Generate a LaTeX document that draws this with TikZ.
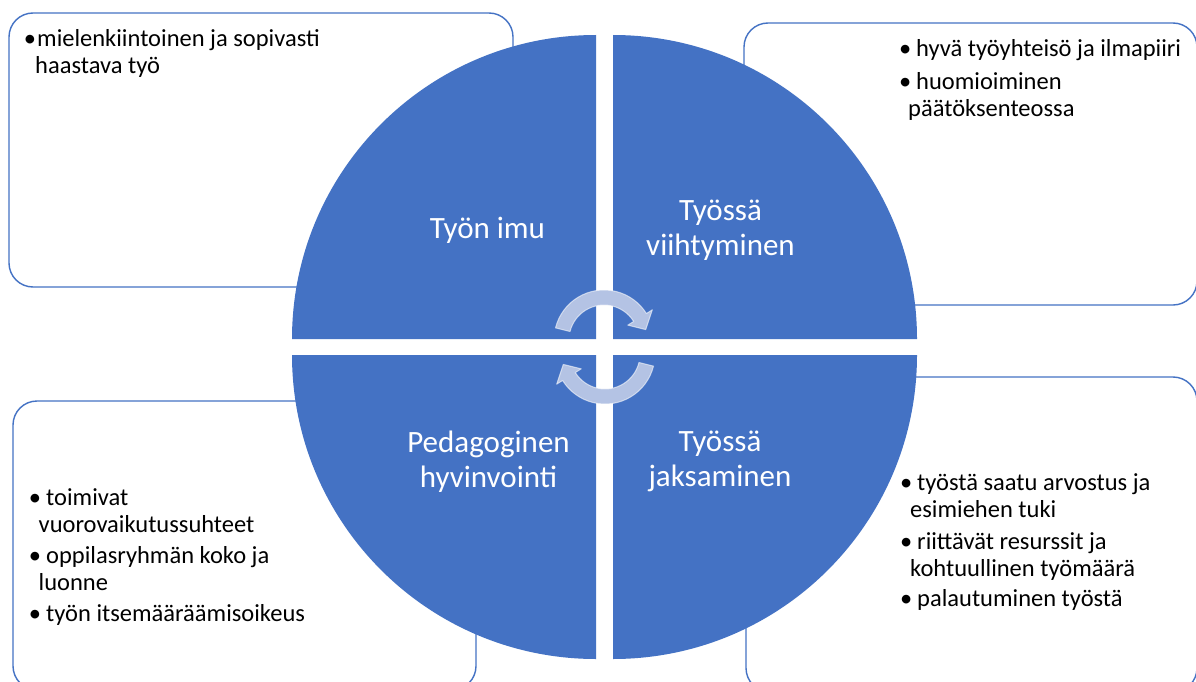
\documentclass[tikz,border=0pt]{standalone}
\usepackage{fontspec}
\setmainfont{Carlito}
\usetikzlibrary{calc}

\definecolor{qblue}{RGB}{68,114,196}
\definecolor{cycfill}{RGB}{180,195,228}

\tikzset{
  quad/.style={fill=qblue, draw=none},
  infobox/.style={draw=qblue, line width=1.4pt, rounded corners=24pt, fill=white},
  qlabel/.style={text=white, font=\fontsize{31}{35}\selectfont, align=center, inner sep=0pt},
  % base anchor of a multi-line item sits on its last line
  item/.style={anchor=base west, inner sep=0pt, align=left, text=black,
               font=\fontsize{24.5}{27}\selectfont},
  cyc/.style={fill=cycfill, draw=white, draw opacity=0.55, line width=1pt, line join=round},
}
\newcommand{\bul}{\llap{\textbullet\hspace{5pt}}}
\newcommand{\tightbul}{\llap{\textbullet\hspace{1pt}}}

\begin{document}
\begin{tikzpicture}[x=1pt, y=-1pt]
  \useasboundingbox (0,0) rectangle (1196,682);
  \fill[white] (0,0) rectangle (1196,682);
  \clip (0,0) rectangle (1196,682);

  % text boxes behind the circle
  \draw[infobox] (9,13) rectangle (513,287);
  \draw[infobox] (744,23) rectangle (1197,305);
  \draw[infobox] (13,401) rectangle (476,690);
  \draw[infobox] (746,377) rectangle (1197,692);

  % four quarter discs, pulled apart
  \fill[quad] (596,339) -- (292,339) arc[start angle=180, end angle=90, radius=304pt] -- cycle;
  \fill[quad] (613,339) -- (613,35) arc[start angle=90, end angle=0, radius=304pt] -- cycle;
  \fill[quad] (596,355) -- (292,355) arc[start angle=180, end angle=270, radius=304pt] -- cycle;
  \fill[quad] (613,355) -- (917,355) arc[start angle=0, end angle=-90, radius=304pt] -- cycle;

  % cycle arrows in the middle
  \coordinate (c1) at (604,340);
  \coordinate (c2) at (605,354);
  \draw[cyc] ($(c1)+(166:50pt)$) arc[start angle=166, end angle=32, radius=50pt]
     -- ($(c1)+(32:57pt)$) -- ($(c1)+(14:43pt)$) -- ($(c1)+(32:28pt)$)
     -- ($(c1)+(32:35pt)$) arc[start angle=32, end angle=166, radius=35pt] -- cycle;
  \draw[cyc] ($(c2)+(-14:50pt)$) arc[start angle=-14, end angle=-148, radius=50pt]
     -- ($(c2)+(-148:57pt)$) -- ($(c2)+(-166:43pt)$) -- ($(c2)+(-148:28pt)$)
     -- ($(c2)+(-148:35pt)$) arc[start angle=-148, end angle=-14, radius=35pt] -- cycle;

  % quadrant titles
  \node[qlabel] (q1) at (487.5,230) {Työn imu};
  \node[qlabel] (q2) at (720.5,230) {Työssä\\viihtyminen};
  \node[qlabel] (q3) at (488.5,462) {Pedagoginen\\hyvinvointi};
  \node[qlabel] (q4) at (720,461) {Työssä\\jaksaminen};

  % bullet texts
  \node[item] (a1) at (37,73.7) {\tightbul mielenkiintoinen ja sopivasti\\\hspace*{-2pt}haastava työ};

  \node[item] (b1) at (916,57) {\bul hyvä työyhteisö ja ilmapiiri};
  \node[item] (b2) at (916,117) {\bul huomioiminen\\\hspace*{-8pt}päätöksenteossa};

  \node[item] (c1t) at (46,532) {\bul toimivat\\\hspace*{-7.5pt}vuorovaikutussuhteet};
  \node[item] (c2t) at (46,590) {\bul oppilasryhmän koko ja\\\hspace*{-7.5pt}luonne};
  \node[item] (c3t) at (46,621.7) {\bul työn itsemääräämisoikeus};

  \node[item] (d1) at (917,517) {\bul työstä saatu arvostus ja\\\hspace*{-7pt}esimiehen tuki};
  \node[item] (d2) at (917,576) {\bul riittävät resurssit ja\\\hspace*{-7pt}kohtuullinen työmäärä};
  \node[item] (d3) at (917,606.7) {\bul palautuminen työstä};
\end{tikzpicture}
\end{document}
